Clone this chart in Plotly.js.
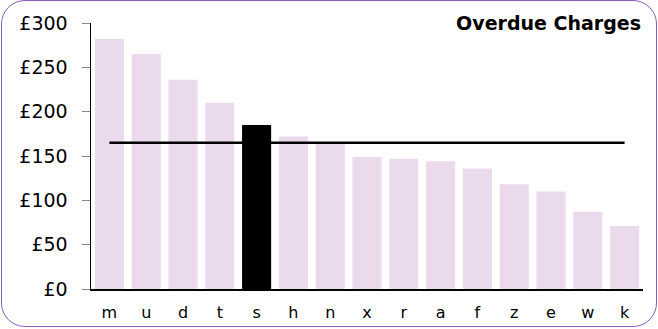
<!DOCTYPE html>
<html>
<head>
<meta charset="utf-8">
<script src="https://cdn.plot.ly/plotly-3.0.1.min.js"></script>
<style>
  html, body { margin: 0; padding: 0; background: #fff; }
  #wrap { position: relative; width: 658px; height: 329px; }
  #chart { width: 658px; height: 329px; }
  #frame { position: absolute; left: 1px; top: 0px; width: 656px; height: 327px; box-sizing: border-box;
           border: 1.5px solid #8a5cba; border-radius: 24px; pointer-events: none; }
</style>
</head>
<body>
<div id="wrap">
  <div id="chart"></div>
  <div id="frame"></div>
</div>
<script>
const categories = ["m","u","d","t","s","h","n","x","r","a","f","z","e","w","k"];
const charges = [282, 265, 236, 210, 185, 172, 164, 149, 147, 144, 136, 118, 110, 87, 71];
const highlight = "s";
const averageCharge = 165;
const yTickVals = [0, 50, 100, 150, 200, 250, 300];
const yTickText = ["£0", "£50", "£100", "£150", "£200", "£250", "£300"];

const barColors = categories.map(c => c === highlight ? "#000000" : "#ebd9ec");

const traces = [
  {
    type: "bar",
    x: categories,
    y: charges,
    marker: { color: barColors, line: { width: 0 } },
    hoverinfo: "x+y"
  },
  {
    type: "scatter",
    mode: "lines",
    x: categories,
    y: categories.map(() => averageCharge),
    line: { color: "#000000", width: 2.5 },
    hoverinfo: "y"
  }
];

const layout = {
  width: 658,
  height: 329,
  margin: { l: 91, r: 15, t: 23, b: 40 },
  paper_bgcolor: "rgba(0,0,0,0)",
  plot_bgcolor: "rgba(0,0,0,0)",
  showlegend: false,
  bargap: 0.21,
  font: { family: "DejaVu Sans, Verdana, sans-serif", color: "#000000", size: 18 },
  title: {
    text: "<b>Overdue Charges</b>",
    font: { family: "DejaVu Sans, Verdana, sans-serif", size: 19, color: "#000000" },
    x: 641, xanchor: "right", xref: "container",
    y: 0.93, yanchor: "middle", yref: "container"
  },
  xaxis: {
    type: "category",
    showline: true, linecolor: "#000000", linewidth: 1.5,
    showgrid: false, zeroline: false,
    ticks: "outside", ticklen: 8, tickcolor: "rgba(0,0,0,0)",
    tickfont: { size: 16 },
    fixedrange: true
  },
  yaxis: {
    range: [0, 300],
    tickvals: yTickVals,
    ticktext: yTickText,
    showline: true, linecolor: "#000000", linewidth: 1.5,
    showgrid: false, zeroline: false,
    ticks: "outside", ticklen: 8, tickcolor: "#888888", tickwidth: 1,
    tickfont: { size: 19 },
    ticklabelstandoff: 10,
    fixedrange: true
  }
};

layout.title.x = 641 / 658;

Plotly.newPlot("chart", traces, layout, { displayModeBar: false, staticPlot: true });
</script>
</body>
</html>
